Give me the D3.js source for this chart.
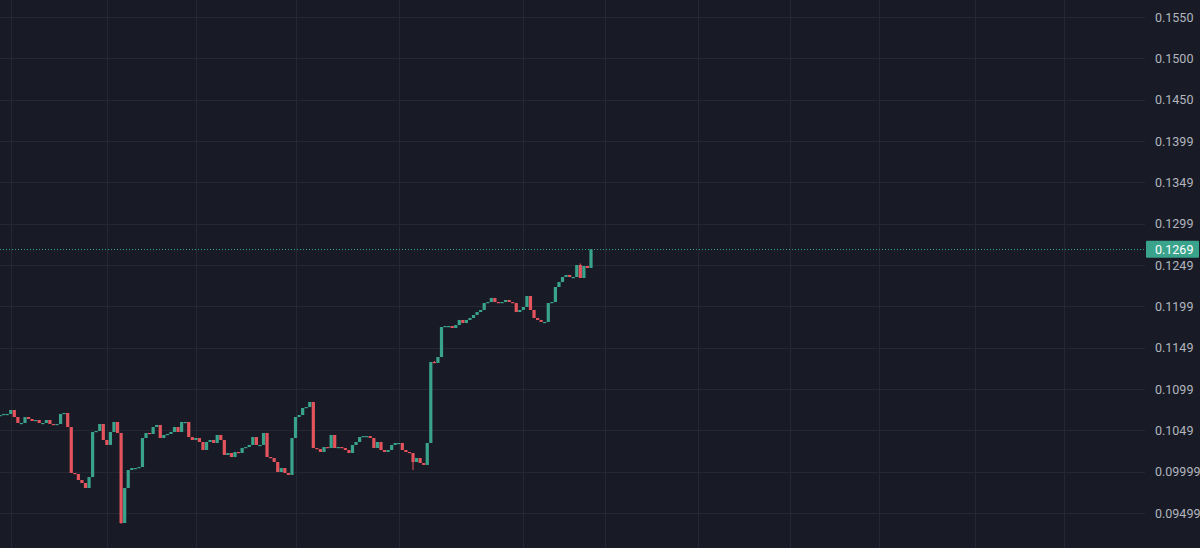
<!DOCTYPE html>
<html><head><meta charset="utf-8">
<script src="https://cdn.jsdelivr.net/npm/d3@7"></script>
<style>html,body{margin:0;padding:0;background:#181b26;overflow:hidden}</style>
</head><body><svg id="c" width="1200" height="548"></svg>
<script>
// ---- data ----
const firstOpen = 0.10680;
const closesA = [
0.10673,0.10685,0.10698,0.10698,0.10746,0.10661,0.10589,0.10589,0.10661,0.10637,
0.10613,0.10625,0.10589,0.10589,0.10625,0.10577,0.10565,0.10577,0.10698,0.10710,
0.10540,0.09984,0.09972,0.09899,0.09863,0.09802,0.09935,0.10480,0.10492,0.10577,
0.10383,0.10323,0.10480,0.10601,0.10468,0.09379,0.09802,0.10020,0.10044,0.10044,
0.10056,0.10407,0.10468,0.10456,0.10540,0.10565,0.10407,0.10444,0.10456,0.10480,
0.10540,0.10480,0.10601,0.10601,0.10419,0.10383,0.10407,0.10359,0.10262,0.10359,
0.10383,0.10347,0.10444,0.10383,0.10202,0.10226,0.10177,0.10238,0.10226,0.10286,
0.10298,0.10323,0.10419,0.10323,0.10323,0.10468,0.10177,0.10165,0.10117,0.09996,
0.10044,0.09984,0.09960,0.10407,0.10661,0.10685,0.10770,0.10782,0.10843,0.10286];
const closesB = [
0.10274,0.10238,0.10298,0.10286,0.10444,0.10286,0.10298,0.10286,0.10262,0.10226,
0.10323,0.10359,0.10419,0.10431,0.10431,0.10407,0.10286,0.10359,0.10262,0.10238,
0.10262,0.10323,0.10347,0.10347,0.10262,0.10238,0.10226,0.10117,0.10165,0.10105,
0.10081,0.10347];
const closesC = [
0.11327,0.11315,0.11387,0.11750,0.11762,0.11762,0.11738,0.11774,0.11835,0.11798,
0.11835,0.11859,0.11895,0.11931,0.11956,0.12040,0.12052,0.12101,0.12052,0.12040,
0.12052,0.12077,0.12052,0.12040,0.11931,0.11956,0.11992,0.12125,0.11956,0.11859,
0.11835,0.11811,0.11811,0.12040,0.12052,0.12234,0.12294,0.12355,0.12379,0.12355,
0.12355,0.12500,0.12343,0.12488,0.12464,0.12690];
const wickLows = [[35,0.09367],[117,0.10020]];
const wickHighs = [[164,0.12518],[123,0.11339]];
const tickValues = [0.1550,0.1500,0.1450,0.1400,0.1350,0.1300,0.1250,0.1200,0.1150,0.1100,0.1050,0.1000,0.0950];
const tickLabels = ["0.1550","0.1500","0.1450","0.1399","0.1349","0.1299","0.1249","0.1199","0.1149","0.1099","0.1049","0.09999","0.09499"];
const timeTicks = [4,31,56,84,113,148,171,197,223,248,275,300];
const lastPrice = 0.1269;
const lastLabel = "0.1269";

// ---- build ----
const closes = closesA.concat(closesB, closesC);
const candles = closes.map((c,i)=>({i, o: i===0?firstOpen:closes[i-1], c}));
const W=1200,H=548, plotR=1145;
const GREEN="#3aa38c", RED="#e4545c";
const svg=d3.select("#c");
svg.append("rect").attr("width",W).attr("height",H).attr("fill","#181b26");

const x=d3.scaleLinear().domain([0,closes.length-1]).range([-3.5,591]);
const y=d3.scaleLinear().domain([0.095,0.155]).range([513,17]);

// grids
const gx=svg.append("g").call(d3.axisBottom(x).tickValues(timeTicks).tickSize(H).tickFormat(""));
gx.select(".domain").remove();
gx.selectAll("line").attr("stroke","#252834").attr("stroke-width",1);
gx.selectAll(".tick").attr("transform",d=>`translate(${Math.round(x(d))+0.5},0)`);

const gy=svg.append("g").attr("transform",`translate(${plotR},0)`)
  .call(d3.axisLeft(y).tickValues(tickValues).tickSize(plotR).tickFormat(""));
gy.select(".domain").remove();
gy.selectAll("line").attr("stroke","#252834").attr("stroke-width",1);
gy.selectAll(".tick").attr("transform",d=>`translate(0,${Math.round(y(d))+0.5})`);

// labels
const gl=svg.append("g").attr("transform",`translate(${plotR},0)`)
  .call(d3.axisRight(y).tickValues(tickValues).tickSize(0).tickPadding(10).tickFormat((d,i)=>tickLabels[i]));
gl.select(".domain").remove();
gl.selectAll("text").attr("fill","#b2b5be").attr("font-family","Roboto, sans-serif").attr("font-size","12.5px");

// last price dotted line
svg.append("line").attr("x1",0).attr("x2",plotR).attr("y1",Math.round(y(lastPrice))+0.5).attr("y2",Math.round(y(lastPrice))+0.5)
  .attr("stroke",GREEN).attr("stroke-width",1).attr("stroke-dasharray","1,2");

// candles
const bw=3.2;
const cg=svg.append("g");
cg.selectAll("line.w").data(wickLows).join("line")
  .attr("x1",d=>x(d[0])).attr("x2",d=>x(d[0]))
  .attr("y1",d=>y(Math.min(candles[d[0]].o,candles[d[0]].c))).attr("y2",d=>y(d[1]))
  .attr("stroke",d=>candles[d[0]].c>=candles[d[0]].o?GREEN:RED).attr("stroke-width",1);
cg.selectAll("line.h").data(wickHighs).join("line")
  .attr("x1",d=>x(d[0])).attr("x2",d=>x(d[0]))
  .attr("y1",d=>y(Math.max(candles[d[0]].o,candles[d[0]].c))).attr("y2",d=>y(d[1]))
  .attr("stroke",d=>candles[d[0]].c>=candles[d[0]].o?GREEN:RED).attr("stroke-width",1);
cg.selectAll("rect").data(candles).join("rect")
  .attr("x",d=>x(d.i)-bw/2).attr("width",bw)
  .attr("y",d=>y(Math.max(d.o,d.c)))
  .attr("height",d=>Math.max(1.2,Math.abs(y(d.o)-y(d.c))))
  .attr("fill",d=>d.c>=d.o?GREEN:RED);

// last price tag
const ly=y(lastPrice);
svg.append("rect").attr("x",plotR+1).attr("y",ly-8.5).attr("width",W-plotR-2).attr("height",17).attr("fill",GREEN).attr("rx",1);
svg.append("text").attr("x",plotR+10).attr("y",ly).attr("dy","0.35em").attr("fill","#ffffff")
  .attr("font-family","Roboto, sans-serif").attr("font-size","12.5px").text(lastLabel);
</script></body></html>
